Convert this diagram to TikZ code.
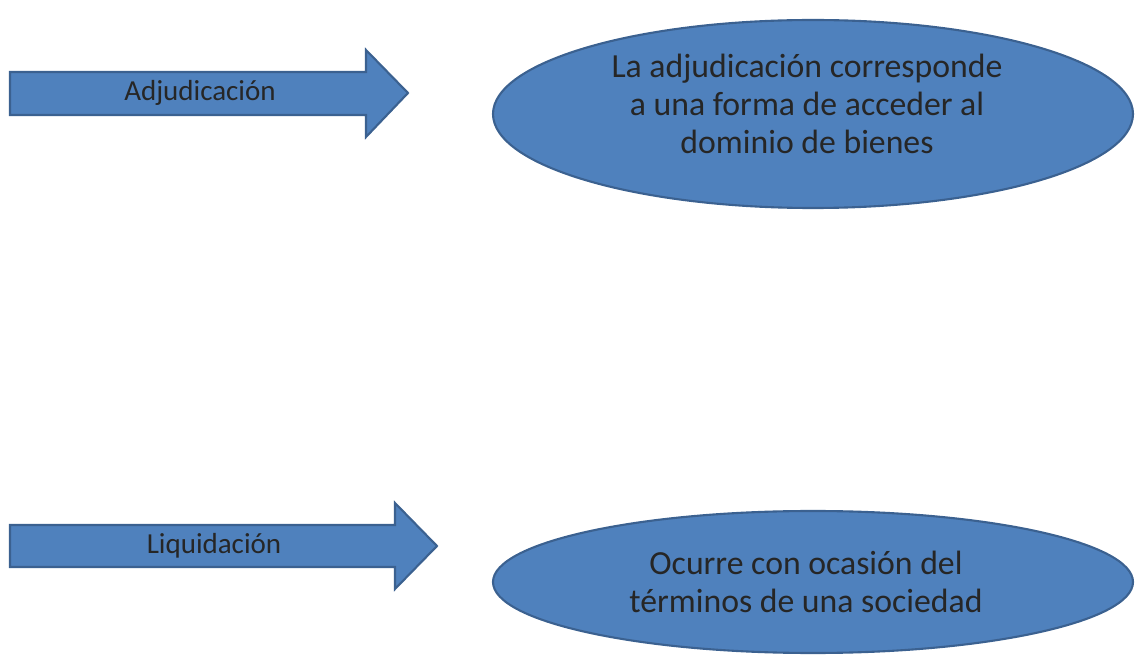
\documentclass[tikz,border=0pt]{standalone}
\usepackage{fontspec}
\setmainfont{Carlito}
\usetikzlibrary{shapes.geometric}
\definecolor{ofblue}{HTML}{4F81BD}
\definecolor{ofedge}{HTML}{3B6190}

\begin{document}
\begin{tikzpicture}[
        x=0.02cm, y=-0.02cm,
        flecha/.style = {draw=ofedge, fill=ofblue, line width=1.2pt, line join=miter},
        etiqueta/.style = {font=\fontsize{16.5}{19}\selectfont, text=black!85},
        idea/.style = {ellipse, draw=ofedge, fill=ofblue, line width=1.2pt, inner sep=0pt},
        texto/.style = {font=\fontsize{19.2}{21.5}\selectfont, text=black!85, align=center},
    ]
    \useasboundingbox (0,0) rectangle (1137,655);

    % Flechas de la izquierda
    \draw[flecha] (10,72) -- (366,72) -- (366,50) -- (408,93) -- (366,137) -- (366,115) -- (10,115) -- cycle;
    \node[etiqueta] (adj) at (200,93) {Adjudicación};

    \draw[flecha] (10,525) -- (395,525) -- (395,503) -- (437,546) -- (395,589) -- (395,567) -- (10,567) -- cycle;
    \node[etiqueta] (liq) at (214,546) {Liquidación};

    % Elipses con la explicacion
    \node[idea, minimum width=640*0.02cm, minimum height=188*0.02cm] (def) at (813,114) {};
    \node[texto] (deftxt) at (807,104)
        {La adjudicación corresponde\\a una forma de acceder al\\dominio de bienes};

    \node[idea, minimum width=640*0.02cm, minimum height=142*0.02cm] (ocu) at (813,582) {};
    \node[texto] (ocutxt) at (806,582)
        {Ocurre con ocasión del\\términos de una sociedad};
\end{tikzpicture}
\end{document}
